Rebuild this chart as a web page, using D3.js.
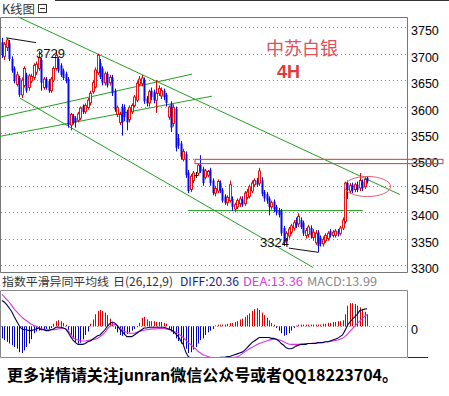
<!DOCTYPE html>
<html><head><meta charset="utf-8">
<script src="https://cdn.jsdelivr.net/npm/d3@7"></script>
<style>body{margin:0;background:#fff}svg{display:block}</style>
</head><body><svg id="c" width="449" height="396"></svg>
<script>
const open=[3722,3695,3712,3720,3690,3672,3642,3654,3622,3640,
3660,3636,3648,3655,3665,3672,3688,3636,3652,3648,
3630,3650,3672,3690,3678,3668,3662,3652,3565,3582,
3578,3574,3578,3600,3590,3598,3607,3628,3637,3664,
3682,3672,3645,3662,3645,3655,3630,3585,3570,3600,
3598,3590,3575,3590,3602,3612,3642,3643,3650,3615,
3607,3630,3628,3612,3625,3620,3630,3622,3580,3605,
3568,3596,3540,3530,3500,3510,3475,3443,3460,3471,
3474,3490,3482,3466,3470,3480,3460,3436,3440,3455,
3442,3430,3418,3422,3425,3406,3410,3416,3424,3416,
3428,3430,3440,3452,3460,3455,3460,3438,3434,3426,
3410,3420,3410,3404,3402,3370,3346,3355,3362,3370,
3385,3378,3385,3380,3356,3358,3370,3352,3342,3362,
3352,3340,3346,3350,3364,3356,3356,3364,3360,3370,
3382,3455,3440,3452,3443,3452,3446,3458,3448,3465];
const high=[3730,3722,3729,3726,3695,3676,3666,3658,3655,3676,
3664,3662,3662,3682,3685,3705,3692,3656,3656,3652,
3656,3676,3706,3694,3682,3672,3666,3656,3588,3586,
3582,3590,3600,3604,3606,3616,3630,3650,3674,3700,
3690,3676,3666,3666,3660,3660,3634,3602,3590,3605,
3604,3594,3602,3606,3622,3648,3658,3660,3655,3620,
3632,3636,3632,3650,3640,3636,3634,3626,3602,3610,
3604,3600,3548,3535,3520,3515,3480,3472,3478,3476,
3493,3508,3486,3482,3480,3484,3464,3450,3462,3460,
3446,3434,3432,3460,3430,3418,3426,3430,3430,3440,
3444,3452,3460,3464,3465,3484,3466,3442,3438,3430,
3422,3424,3414,3408,3406,3374,3364,3372,3378,3385,
3390,3398,3390,3384,3370,3376,3375,3368,3366,3366,
3356,3354,3360,3364,3368,3366,3368,3368,3374,3390,
3458,3460,3455,3456,3456,3458,3474,3462,3466,3468];
const low=[3692,3688,3705,3686,3664,3644,3638,3618,3616,3636,
3626,3630,3644,3650,3660,3668,3630,3632,3632,3626,
3626,3646,3668,3664,3656,3650,3644,3560,3555,3566,
3560,3570,3574,3586,3586,3594,3602,3624,3634,3660,
3652,3640,3640,3636,3640,3620,3590,3580,3565,3545,
3572,3555,3570,3586,3598,3608,3638,3638,3605,3600,
3600,3612,3606,3588,3620,3614,3612,3600,3575,3552,
3562,3515,3520,3500,3496,3465,3436,3438,3455,3465,
3470,3474,3450,3462,3466,3450,3432,3430,3436,3436,
3418,3414,3412,3418,3402,3400,3406,3410,3410,3412,
3424,3426,3436,3448,3448,3450,3430,3420,3416,3394,
3405,3400,3394,3390,3355,3336,3340,3350,3358,3365,
3370,3372,3368,3355,3350,3352,3350,3346,3338,3324,
3335,3335,3342,3346,3352,3352,3352,3354,3356,3366,
3378,3425,3435,3436,3438,3438,3440,3440,3444,3454];
const close=[3698,3718,3726,3690,3668,3648,3660,3622,3650,3672,
3630,3658,3657,3678,3680,3692,3645,3652,3636,3630,
3652,3672,3697,3668,3660,3654,3648,3565,3585,3570,
3570,3586,3597,3590,3602,3612,3625,3645,3669,3697,
3656,3645,3662,3640,3655,3625,3594,3598,3585,3570,
3580,3570,3598,3602,3618,3644,3652,3654,3610,3606,
3628,3618,3612,3625,3634,3630,3618,3607,3599,3560,
3598,3522,3526,3505,3515,3470,3440,3468,3474,3471,
3489,3478,3455,3478,3477,3455,3436,3445,3458,3440,
3422,3418,3428,3452,3410,3414,3422,3425,3414,3436,
3438,3448,3455,3460,3452,3478,3435,3426,3422,3410,
3418,3405,3400,3395,3360,3342,3360,3368,3374,3380,
3375,3392,3372,3360,3365,3372,3356,3362,3360,3336,
3340,3348,3356,3360,3356,3362,3364,3358,3370,3385,
3455,3442,3450,3441,3452,3442,3460,3445,3462,3458];
const diff=[30,28,25,21,17,11,6,1,-3,-4,
-4,-5,-5,-4,-3,-2,-4,-4,-5,-5,
-4,-3,-1,-1,-1,-2,-3,-7,-12,-16,
-19,-21,-21,-21,-20,-18,-17,-15,-13,-11,
-10,-7,-4,0,3,5,4,1,-3,-6,
-9,-12,-12,-12,-10,-8,-6,-4,-2,-2,
-1,-1,-1,-1,-1,-1,-1,-2,-3,-4,
-6,-9,-12,-17,-21,-30,-35,-37,-37,-37,
-37,-37,-37,-37,-37,-37,-37,-37,-37,-36,
-36,-36,-35,-35,-34,-33,-32,-31,-30,-28,
-25,-22,-19,-17,-15,-13,-13,-13,-13,-13,
-14,-14,-15,-17,-20,-22,-25,-26,-26,-25,
-23,-22,-21,-21,-21,-20,-20,-20,-20,-19,
-19,-19,-18,-18,-17,-16,-15,-14,-12,-10,
-5,1,5,8,11,14,18,19,20,20.36];
const dea=[37,34,31,28,24,20,17,14,11,8.5,
6.5,4.5,2.5,1,0,-2,-3,-3.5,-4,-4,
-4,-4,-3.5,-3,-2.5,-2,-3,-5,-9,-13,
-15,-16,-17,-17,-17,-16.5,-16,-15.5,-15,-14,
-12,-10,-7,-3,0,2,2,1,-2,-4,
-6,-7,-8,-8,-8,-7,-6,-5,-4.5,-4,
-3.5,-3,-3,-3,-2.5,-2.5,-2.5,-3,-3.5,-4.5,
-6,-7,-8,-11,-13,-16,-19,-21,-24,-26,
-29,-31,-33,-34,-35,-36,-37,-37,-37,-37,
-37,-37,-37,-37,-36.5,-36,-35.5,-34,-32,-30,
-28,-26,-24.5,-23,-21.5,-20,-19,-18,-17,-16,
-15.5,-15,-15,-15.5,-16.5,-18,-19.5,-20.5,-21,-21,
-21,-21,-20.5,-20.5,-20,-20,-20,-19.5,-19.5,-19,
-19,-18.5,-18,-18,-17.5,-17,-16.5,-16,-15,-14,
-12,-9,-6,-3,0,3,6,9,11.5,13.36];
const macd=[-14,-16,-18,-20,-22,-24,-26,-30,-31,-28,
-24,-20,-15,-8,-6,-5,-4,-4,-3,-3,
-2,3,6,7,6,4,2,-4,-10,-14,
-18,-20,-19,-15,-10,-6,3,8,14,18,
19,18,16,13,9,4,-3,-7,-10,-11,
-10,-9,-7,-5,-3,-1,4,10,11,8,
6,6,6,5,5,5,4,3,-3,-6,
-9,-14,-17,-20,-22,-26,-31,-30,-27,-24,
-20,-16,-14,-10,-7,-5,-3,1,2,2,
2,2,3,4,4,5,6,8,9,11,
13,15,18,20,21,19,16,13,10,7,
4,2,-2,-5,-8,-11,-10,-8,-5,-2,
1,2,2,2,2,2,2,2,2,2,
2,3,3,4,4,5,5,6,6,7,
14,24,27,27,26,24,22,20,17,13.99];
const priceTicks=[3300,3350,3400,3450,3500,3550,3600,3650,3700,3750];
const macdTicks=[0];
// trend lines in (candle index, price)
const greenLines=[
  [[6.53,3769.7],[162.4,3433.4]],
  [[7.35,3615.8],[127,3295.3]],
  [[-0.82,3580],[77.55,3661.4]],
  [[-0.82,3543.6],[85.7,3619.6]],
  [[75.9,3403],[147.3,3403]]
];
const blackLines=[
  [[1.63,3730],[13.9,3721]],
  [[117.1,3332],[129.1,3324]]
];
const marks=[{t:"3729",i:13.9,v:3700},{t:"3324",i:105.3,v:3342}];
const zoneRect={i0:78.8,i1:180,v0:3500,v1:3492};
const ellipse={i:149.2,v:3448.6,ri:9.4,rv:19};
const header=[{t:"指数平滑异同平均线",x:2,c:"#333",w:107},{t:"日(26,12,9)",x:113,c:"#333",w:60},
  {t:"DIFF:20.36",x:180,c:"#1c1c7a",w:59},{t:"DEA:13.36",x:243,c:"#d838d8",w:60},{t:"MACD:13.99",x:307,c:"#888",w:70}];

const svg=d3.select("#c");
const xs=d3.scaleLinear().domain([0,149]).range([2,367]);
const ys=d3.scaleLinear().domain([3300,3750]).range([265,27.3]);
const ym=d3.scaleLinear().domain([-36,41.4]).range([357.3,290.7]);
const BLUE="#0a0af0",RED="#e00000";

// top header
svg.append("line").attr("x1",55).attr("x2",449).attr("y1",0.5).attr("y2",0.5).attr("stroke","#333");
svg.append("text").attr("x",2).attr("y",14).attr("font-family","Noto Sans CJK SC").attr("font-size",12.5).attr("fill","#333").text("K线图");
svg.append("rect").attr("x",38.5).attr("y",4.5).attr("width",8).attr("height",8).attr("fill","none").attr("stroke","#333");
svg.append("line").attr("x1",40).attr("x2",45).attr("y1",8.5).attr("y2",8.5).attr("stroke","#333");

// main panel frame
svg.append("path").attr("d","M0.5,272.5V17.5H407.5V272.5H0.5").attr("stroke","#777").attr("fill","none");
// grid
svg.append("g").selectAll("line").data(priceTicks).join("line")
  .attr("x1",1).attr("x2",407).attr("y1",d=>Math.round(ys(d))+0.5).attr("y2",d=>Math.round(ys(d))+0.5)
  .attr("stroke","#8a8a8a").attr("stroke-dasharray","1,3");
// axis
const ax=svg.append("g").attr("transform","translate(408,0)")
  .call(d3.axisRight(ys).tickValues(priceTicks).tickFormat(d3.format("d")).tickSize(0).tickPadding(3));
ax.select(".domain").remove();
ax.selectAll("text").attr("font-family","Liberation Sans").attr("font-size",12.5).attr("fill","#000").attr("y",3.5);

// annotations text
svg.append("text").attr("x",266).attr("y",54.5).attr("font-family","Noto Sans CJK SC").attr("font-size",18).attr("fill","#e0505a").text("中苏白银");
svg.append("text").attr("x",277).attr("y",78).attr("font-family","Liberation Sans").attr("font-weight","bold").attr("font-size",18).attr("fill","#e03a3a").text("4H");

// trend lines
const lineGen=d3.line().x(d=>xs(d[0])).y(d=>ys(d[1]));
svg.append("g").selectAll("path").data(greenLines).join("path").attr("d",lineGen).attr("stroke","#22a022").attr("fill","none").attr("stroke-width",1);

// candles
const idx=d3.range(open.length);
const cg=svg.append("g");
cg.selectAll("line.w").data(idx).join("line")
  .attr("x1",i=>Math.round(xs(i))+0.5).attr("x2",i=>Math.round(xs(i))+0.5)
  .attr("y1",i=>ys(high[i])).attr("y2",i=>ys(low[i]))
  .attr("stroke",i=>close[i]>open[i]?RED:(close[i]<open[i]?BLUE:"#000")).attr("stroke-width",1);
cg.selectAll("rect.b").data(idx.filter(i=>close[i]!==open[i])).join("rect")
  .attr("x",i=>Math.round(xs(i))-0.5)
  .attr("width",2)
  .attr("y",i=>ys(Math.max(open[i],close[i])))
  .attr("height",i=>Math.max(1,ys(Math.min(open[i],close[i]))-ys(Math.max(open[i],close[i]))))
  .attr("fill",i=>close[i]>open[i]?"#fff":BLUE)
  .attr("stroke",i=>close[i]>open[i]?RED:"none").attr("stroke-width",0.9);
cg.selectAll("line.d").data(idx.filter(i=>close[i]===open[i])).join("line")
  .attr("x1",i=>Math.round(xs(i))-1.5).attr("x2",i=>Math.round(xs(i))+2.5)
  .attr("y1",i=>Math.round(ys(open[i]))+0.5).attr("y2",i=>Math.round(ys(open[i]))+0.5).attr("stroke","#000");

// zone rect & ellipse
svg.append("rect").attr("x",xs(zoneRect.i0)).attr("y",ys(zoneRect.v0))
  .attr("width",xs(zoneRect.i1)-xs(zoneRect.i0)).attr("height",ys(zoneRect.v1)-ys(zoneRect.v0))
  .attr("fill","none").attr("stroke","#e04848").attr("stroke-width",1.1);
svg.append("ellipse").attr("cx",xs(ellipse.i)).attr("cy",ys(ellipse.v))
  .attr("rx",xs(ellipse.i+ellipse.ri)-xs(ellipse.i)).attr("ry",ys(ellipse.v-ellipse.rv)-ys(ellipse.v))
  .attr("fill","none").attr("stroke","#e06070").attr("stroke-width",1);

// black annotation lines and labels
svg.append("g").selectAll("path").data(blackLines).join("path").attr("d",lineGen).attr("stroke","#111").attr("fill","none");
svg.append("g").selectAll("text").data(marks).join("text")
  .attr("x",d=>xs(d.i)).attr("y",d=>ys(d.v)+4).attr("font-family","Liberation Sans").attr("font-size",13).attr("fill","#111").text(d=>d.t);

// MACD header
svg.append("g").selectAll("text").data(header).join("text")
  .attr("x",d=>d.x).attr("y",285.5).attr("font-family","Noto Sans CJK SC").attr("font-size",11.8)
  .attr("fill",d=>d.c).attr("textLength",d=>d.w).attr("lengthAdjust","spacingAndGlyphs").text(d=>d.t);

// MACD panel frame
svg.append("path").attr("d","M0.5,357.5V290.5H407.5V357.5H0.5").attr("stroke","#888").attr("fill","none");
svg.append("line").attr("x1",408).attr("x2",428).attr("y1",357.5).attr("y2",357.5).attr("stroke","#1a1aa0");
svg.append("line").attr("x1",1).attr("x2",407).attr("y1",Math.round(ym(0))+0.5).attr("y2",Math.round(ym(0))+0.5)
  .attr("stroke","#999").attr("stroke-dasharray","1,3");
const max=svg.append("g").attr("transform","translate(408,0)").call(d3.axisRight(ym).tickValues(macdTicks).tickSize(0).tickPadding(3));
max.select(".domain").remove();
max.selectAll("text").attr("font-family","Liberation Sans").attr("font-size",12.5).attr("fill","#000").attr("y",3);

svg.append("clipPath").attr("id","mc").append("rect").attr("x",1).attr("y",291).attr("width",406).attr("height",66);
const mg=svg.append("g").attr("clip-path","url(#mc)");
mg.selectAll("rect").data(idx).join("rect")
  .attr("x",i=>Math.round(xs(i)))
  .attr("width",1)
  .attr("y",i=>Math.min(ym(0),ym(macd[i])))
  .attr("height",i=>Math.abs(ym(macd[i])-ym(0)))
  .attr("fill",i=>macd[i]>=0?"#d80000":"#0000c0");
const ml=d3.line().x((d,i)=>xs(i)).y(d=>ym(d));
mg.append("path").attr("d",ml(dea)).attr("stroke","#e030e0").attr("fill","none").attr("stroke-width",1.1);
mg.append("path").attr("d",ml(diff)).attr("stroke","#000050").attr("fill","none").attr("stroke-width",1.1);

// footer
svg.append("text").attr("x",7).attr("y",380.5).attr("font-family","Noto Sans CJK SC").attr("font-weight","bold")
  .attr("font-size",16).attr("fill","#000").attr("textLength",391).attr("lengthAdjust","spacingAndGlyphs")
  .text("更多详情请关注junran微信公众号或者QQ18223704。");
</script></body></html>
